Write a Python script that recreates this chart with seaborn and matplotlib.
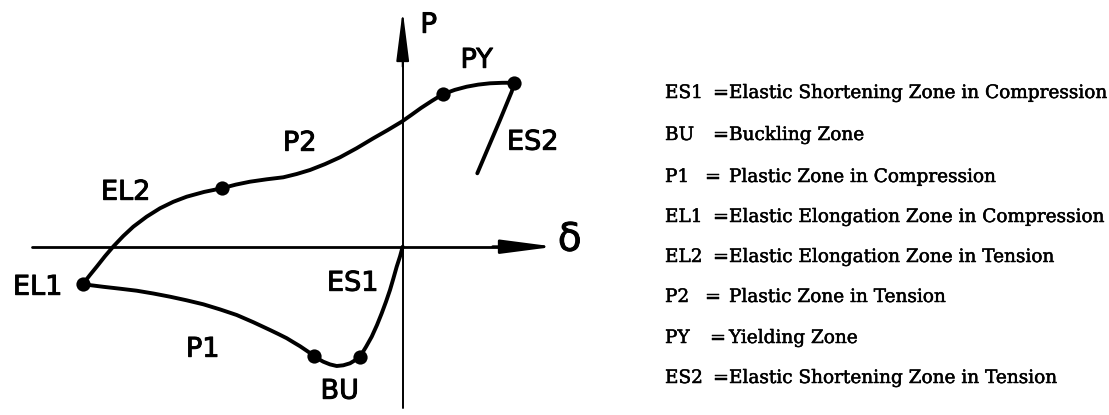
import matplotlib
matplotlib.use("Agg")
import matplotlib.pyplot as plt
import matplotlib.patheffects as pe
import seaborn as sns
import pandas as pd

# Hysteresis loop of a brace member: axial deformation (delta) vs axial force (P)
el2_delta = [-3.200, -3.130, -3.060, -2.977, -2.894, -2.794, -2.694, -2.561,
             -2.427, -2.294, -2.160, -1.985, -1.810]
el2_p = [-0.376, -0.286, -0.200, -0.095, 0.002, 0.107, 0.200, 0.300,
         0.384, 0.449, 0.500, 0.548, 0.584]

p2_delta = [-1.810, -1.668, -1.527, -1.360, -1.194, -1.060, -0.927, -0.777,
            -0.627, -0.460, -0.294, -0.152, -0.010, 0.087, 0.183, 0.292, 0.400]
p2_p = [0.584, 0.621, 0.650, 0.674, 0.694, 0.727, 0.767, 0.826,
        0.894, 0.985, 1.084, 1.165, 1.250, 1.318, 1.387, 1.458, 1.524]

py_delta = [0.400, 0.520, 0.640, 0.756, 0.873, 0.995, 1.116]
py_p = [1.524, 1.568, 1.600, 1.621, 1.634, 1.639, 1.640]

es2_delta = [1.116, 1.090, 0.973, 0.746]
es2_p = [1.640, 1.550, 1.267, 0.734]

p1_delta = [-3.200, -3.097, -2.994, -2.827, -2.660, -2.494, -2.327, -2.161,
            -1.994, -1.827, -1.660, -1.494, -1.327, -1.244, -1.160, -1.094,
            -1.027, -0.956, -0.884]
p1_p = [-0.376, -0.388, -0.401, -0.420, -0.440, -0.468, -0.500, -0.536,
        -0.576, -0.627, -0.683, -0.755, -0.833, -0.873, -0.915, -0.955,
        -0.995, -1.043, -1.093]

bu_delta = [-0.884, -0.839, -0.794, -0.727, -0.660, -0.594, -0.527, -0.477,
            -0.427]
bu_p = [-1.093, -1.125, -1.150, -1.177, -1.193, -1.186, -1.166, -1.136,
        -1.100]

es1_delta = [-0.427, -0.366, -0.310, -0.257, -0.210, -0.167, -0.127, -0.093,
             -0.060, -0.027, 0.000]
es1_p = [-1.100, -1.000, -0.900, -0.783, -0.666, -0.550, -0.433, -0.317,
         -0.200, -0.098, 0.000]

# zone boundaries
node_delta = [-3.200, -1.810, -0.884, -0.427, 0.400, 1.116]
node_p = [-0.376, 0.584, -1.093, -1.100, 1.524, 1.640]

# zone labels and where they sit
zone_names = ["EL1", "EL2", "P2", "PY", "ES2", "ES1", "P1", "BU"]
zone_delta = [-3.65, -2.77, -1.03, 0.74, 1.30, -0.50, -2.00, -0.63]
zone_p = [-0.41, 0.54, 1.03, 1.86, 1.04, -0.37, -1.03, -1.45]

# key
key_codes = ["ES1", "BU", "P1", "EL1", "EL2", "P2", "PY", "ES2"]
key_texts = [
    "Elastic Shortening Zone in Compression",
    "Buckling Zone",
    "Plastic Zone in Compression",
    "Elastic Elongation Zone in Compression",
    "Elastic Elongation Zone in Tension",
    "Plastic Zone in Tension",
    "Yielding Zone",
    "Elastic Shortening Zone in Tension",
]

sns.set_theme(style="white")
plt.rcParams["font.family"] = ["DejaVu Sans"]
plt.rcParams["text.color"] = "black"

W, H = 1109, 415
fig = plt.figure(figsize=(W / 100, H / 100), dpi=100)
ax = fig.add_axes([0, 0, 1, 1])
ax.set_xlim(-4.027, 7.063)
ax.set_ylim(-1.683, 2.467)
ax.set_axis_off()

# coordinate axes with arrow heads
ax.plot([-3.71, 1.0], [0, 0], color="black", lw=2.0, solid_capstyle="butt")
ax.annotate("", xy=(1.52, 0), xytext=(0.9, 0),
            arrowprops=dict(arrowstyle="-|>,head_length=2.3,head_width=0.3",
                            mutation_scale=14, color="black", lw=2.0,
                            shrinkA=0, shrinkB=0))
ax.plot([0, 0], [-1.61, 1.9], color="black", lw=1.4, solid_capstyle="butt")
ax.annotate("", xy=(0, 2.36), xytext=(0, 1.8),
            arrowprops=dict(arrowstyle="-|>,head_length=2.2,head_width=0.28",
                            mutation_scale=14, color="black", lw=1.4,
                            shrinkA=0, shrinkB=0))
thick = [pe.withStroke(linewidth=0.7, foreground="black")]
ax.text(0.26, 2.22, "P", fontsize=20, ha="center", va="center",
        color="black", path_effects=thick)
ax.text(1.67, 0.07, "δ", fontsize=28, ha="center", va="center",
        color="black", path_effects=thick)

segments = [
    (el2_delta, el2_p), (p2_delta, p2_p), (py_delta, py_p), (es2_delta, es2_p),
    (p1_delta, p1_p), (bu_delta, bu_p), (es1_delta, es1_p),
]
for d, p in segments:
    df = pd.DataFrame({"delta": d, "P": p})
    sns.lineplot(data=df, x="delta", y="P", sort=False, estimator=None,
                 color="black", lw=2.8, ax=ax)
for line in ax.lines:
    line.set_solid_joinstyle("round")
    line.set_solid_capstyle("round")

nodes = pd.DataFrame({"delta": node_delta, "P": node_p})
sns.scatterplot(data=nodes, x="delta", y="P", s=105, color="black",
                edgecolor="black", linewidth=0, ax=ax, zorder=5)

for name, d, p in zip(zone_names, zone_delta, zone_p):
    ax.text(d, p, name, fontsize=19.5, ha="center", va="center",
            color="black", path_effects=thick)

# key text on the right
serif = "DejaVu Serif"
ink = [pe.withStroke(linewidth=0.35, foreground="black")]
row_y = [93, 135, 177, 217, 257, 297, 338, 378]
for code, txt, y in zip(key_codes, key_texts, row_y):
    yf = 1 - y / H
    eq_x = 705 if code in ("P1", "P2") else (710 if code == "PY" else 713)
    ax.text(665 / W, yf, code, transform=ax.transAxes, fontsize=13.3,
            family=serif, color="black", ha="left", va="center",
            path_effects=ink)
    ax.text(eq_x / W, yf, "=", transform=ax.transAxes, fontsize=13.3,
            family=serif, color="black", ha="left", va="center",
            path_effects=ink)
    ax.text(729 / W, yf, txt, transform=ax.transAxes, fontsize=13.3,
            family=serif, color="black", ha="left", va="center",
            path_effects=ink)

fig.savefig("out.png", dpi=100)
